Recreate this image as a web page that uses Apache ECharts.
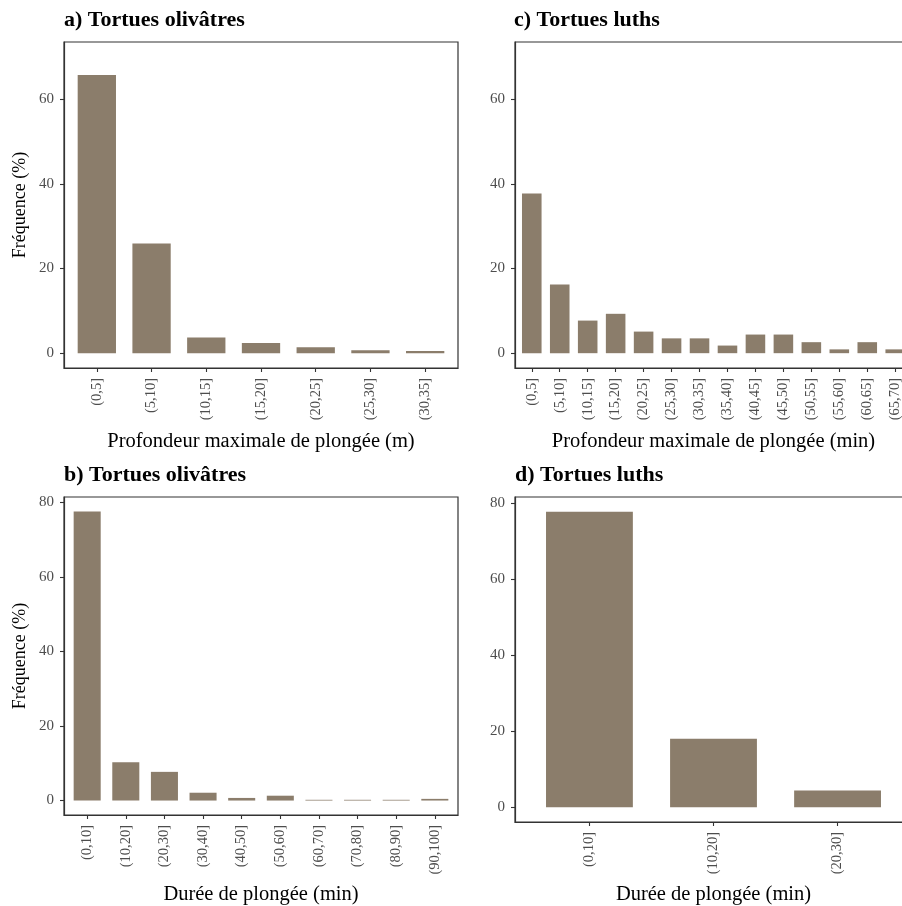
<!DOCTYPE html>
<html>
<head>
<meta charset="utf-8">
<script src="https://cdn.jsdelivr.net/npm/echarts@6/dist/echarts.min.js"></script>
<style>
html,body{margin:0;padding:0;background:#fff;}
#chart{width:902px;height:906px;}
</style>
</head>
<body>
<div id="chart"></div>
<script>
// ---- data ----
const catsDepthOlive = ['(0,5]','(5,10]','(10,15]','(15,20]','(20,25]','(25,30]','(30,35]'];
const valsDepthOlive = [65.7, 25.9, 3.7, 2.4, 1.4, 0.7, 0.5];

const catsDepthLuth = ['(0,5]','(5,10]','(10,15]','(15,20]','(20,25]','(25,30]','(30,35]','(35,40]','(40,45]','(45,50]','(50,55]','(55,60]','(60,65]','(65,70]'];
const valsDepthLuth = [37.7, 16.2, 7.7, 9.3, 5.1, 3.5, 3.5, 1.8, 4.4, 4.4, 2.6, 0.9, 2.6, 0.9];

const catsDurOlive = ['(0,10]','(10,20]','(20,30]','(30,40]','(40,50]','(50,60]','(60,70]','(70,80]','(80,90]','(90,100]'];
const valsDurOlive = [77.6, 10.3, 7.7, 2.1, 0.7, 1.3, 0.2, 0.2, 0.2, 0.45];

const catsDurLuth = ['(0,10]','(10,20]','(20,30]'];
const valsDurLuth = [77.7, 18.0, 4.4];

const titles = ['a) Tortues olivâtres','c) Tortues luths','b) Tortues olivâtres','d) Tortues luths'];
const yTicksTop = [0, 20, 40, 60];
const yTicksBottom = [0, 20, 40, 60, 80];
const xTitleDepthM = 'Profondeur maximale de plongée (m)';
const xTitleDepthMin = 'Profondeur maximale de plongée (min)';
const xTitleDur = 'Durée de plongée (min)';
const yTitle = 'Fréquence (%)';

// ---- styling ----
const FONT = '"Liberation Serif", "DejaVu Serif", serif';
const BAR = '#8B7D6B';
const DARK = '#333333';
const TICKLBL = '#4D4D4D';

const panels = [
  {cats: catsDepthOlive, vals: valsDepthOlive, grid: {left: 64, top: 42, width: 394, height: 326}, ymin: -3.5, ymax: 73.5, yt: yTicksTop, xname: xTitleDepthM, xgap: 63, yname: yTitle},
  {cats: catsDepthLuth, vals: valsDepthLuth, grid: {left: 515, top: 42, width: 397, height: 326}, ymin: -3.5, ymax: 73.5, yt: yTicksTop, xname: xTitleDepthMin, xgap: 63, yname: ''},
  {cats: catsDurOlive, vals: valsDurOlive, grid: {left: 64, top: 497, width: 394, height: 318}, ymin: -3.88, ymax: 81.48, yt: yTicksBottom, xname: xTitleDur, xgap: 69, yname: yTitle},
  {cats: catsDurLuth, vals: valsDurLuth, grid: {left: 515, top: 497, width: 397, height: 325}, ymin: -3.885, ymax: 81.585, yt: yTicksBottom, xname: xTitleDur, xgap: 62, yname: ''}
];
const titlePos = [{left: 64, top: 9}, {left: 514, top: 9}, {left: 64, top: 464}, {left: 515, top: 464}];

const grid = [], xAxis = [], yAxis = [], series = [], title = [];
panels.forEach((p, i) => {
  grid.push(Object.assign({show: true, borderColor: DARK, borderWidth: 1.2, backgroundColor: 'transparent',
    containLabel: false, outerBoundsMode: 'none'}, p.grid));
  const idx = p.cats.map((_, k) => k);
  xAxis.push({
    type: 'value', gridIndex: i, min: -0.6, max: p.cats.length - 0.4,
    axisLine: {show: true, onZero: false, lineStyle: {color: DARK, width: 1.2}},
    splitLine: {show: false},
    axisTick: {show: true, length: 4, lineStyle: {color: DARK, width: 1.1}, customValues: idx},
    axisLabel: {show: true, rotate: 90, margin: 10, fontFamily: FONT, fontSize: 14.5, color: TICKLBL,
      customValues: idx, formatter: v => p.cats[Math.round(v)]},
    name: p.xname, nameLocation: 'middle', nameGap: p.xgap,
    nameTextStyle: {fontFamily: FONT, fontSize: 20.5, color: '#000'}
  });
  yAxis.push({
    type: 'value', gridIndex: i, min: p.ymin, max: p.ymax,
    axisLine: {show: true, onZero: false, lineStyle: {color: DARK, width: 1.2}},
    splitLine: {show: false},
    axisTick: {show: true, length: 4, lineStyle: {color: DARK, width: 1.1}, customValues: p.yt},
    axisLabel: {show: true, margin: 10, fontFamily: FONT, fontSize: 15, color: TICKLBL, customValues: p.yt},
    name: p.yname, nameLocation: 'middle', nameGap: 35,
    nameTextStyle: {fontFamily: FONT, fontSize: 18, color: '#000'}
  });
  series.push({
    type: 'bar', xAxisIndex: i, yAxisIndex: i,
    data: p.vals.map((v, k) => [k, v]),
    barWidth: '70%',
    itemStyle: {color: BAR},
    silent: true
  });
  title.push(Object.assign({text: titles[i], padding: 0,
    textStyle: {fontFamily: FONT, fontSize: 22, fontWeight: 'bold', color: '#000'}}, titlePos[i]));
});

const chart = echarts.init(document.getElementById('chart'), null, {renderer: 'canvas'});
chart.setOption({
  animation: false,
  backgroundColor: '#fff',
  title, grid, xAxis, yAxis, series
});
</script>
</body>
</html>
